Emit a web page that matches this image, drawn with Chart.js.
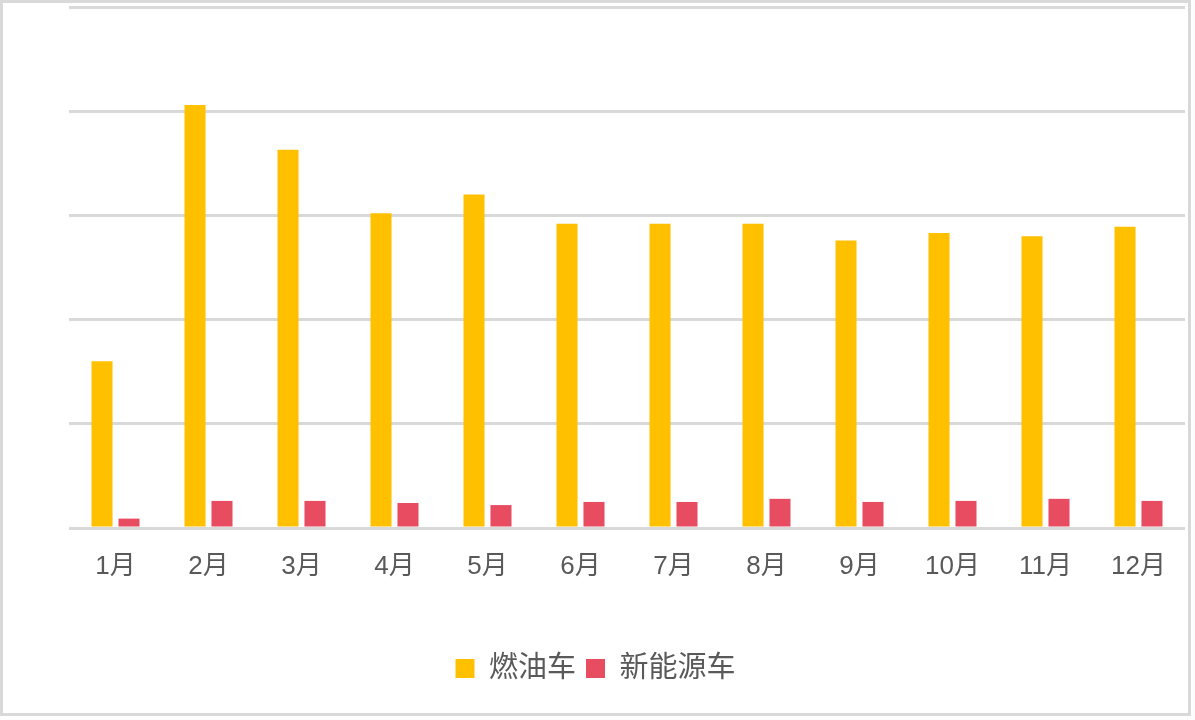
<!DOCTYPE html>
<html lang="zh">
<head>
    <meta charset="UTF-8">
    <title>燃油车与新能源车月度对比</title>
    <script src="https://cdn.jsdelivr.net/npm/chart.js"></script>
    <style>
        html, body {
            margin: 0;
            padding: 0;
            background: #ffffff;
        }
        .frame {
            width: 1191px;
            height: 716px;
            box-sizing: border-box;
            border: 3px solid #d9d9d9;
            background: #ffffff;
        }
        .chart-container {
            position: relative;
            width: 1185px;
            height: 710px;
        }
    </style>
</head>
<body>
    <div class="frame">
        <div class="chart-container">
            <canvas id="salesChart"></canvas>
        </div>
    </div>

    <script>
        // 数据
        const months = ['1月', '2月', '3月', '4月', '5月', '6月', '7月', '8月', '9月', '10月', '11月', '12月'];
        const fuelCars = [16.0, 40.6, 36.3, 30.2, 32.0, 29.2, 29.2, 29.2, 27.6, 28.3, 28.0, 28.9];
        const newEnergyCars = [0.9, 2.6, 2.6, 2.4, 2.2, 2.5, 2.5, 2.8, 2.5, 2.6, 2.8, 2.6];
        const yMax = 50;
        const yStep = 10;

        const textColor = '#595959';
        const gridColor = '#d9d9d9';
        const fontFamily = "'Liberation Sans', 'Noto Sans CJK SC', sans-serif";

        function initializeChart() {
            const ctx = document.getElementById('salesChart').getContext('2d');
            new Chart(ctx, {
                type: 'bar',
                data: {
                    labels: months,
                    datasets: [{
                        label: '燃油车',
                        data: fuelCars,
                        backgroundColor: '#FFC000',
                        borderWidth: 0,
                        categoryPercentage: 0.58,
                        barPercentage: 0.78
                    }, {
                        label: '新能源车',
                        data: newEnergyCars,
                        backgroundColor: '#E84C60',
                        borderWidth: 0,
                        categoryPercentage: 0.58,
                        barPercentage: 0.78
                    }]
                },
                options: {
                    responsive: true,
                    maintainAspectRatio: false,
                    animation: false,
                    layout: {
                        padding: { left: 3, right: 3, top: 4, bottom: 20 }
                    },
                    scales: {
                        x: {
                            grid: { display: false },
                            border: { display: false },
                            ticks: {
                                color: textColor,
                                padding: 15,
                                font: { family: fontFamily, size: 26 }
                            },
                            afterFit: (scale) => { scale.height = 116; }
                        },
                        y: {
                            min: 0,
                            max: yMax,
                            border: { display: false },
                            grid: {
                                color: gridColor,
                                lineWidth: 3,
                                drawTicks: false
                            },
                            ticks: {
                                display: false,
                                stepSize: yStep
                            },
                            afterFit: (scale) => { scale.width = 63; }
                        }
                    },
                    plugins: {
                        legend: {
                            position: 'bottom',
                            labels: {
                                color: textColor,
                                boxWidth: 19,
                                boxHeight: 19,
                                padding: 10,
                                font: { family: fontFamily, size: 29 }
                            }
                        },
                        tooltip: { enabled: false }
                    }
                }
            });
        }

        document.addEventListener('DOMContentLoaded', () => {
            initializeChart();
        });
    </script>
</body>
</html>
